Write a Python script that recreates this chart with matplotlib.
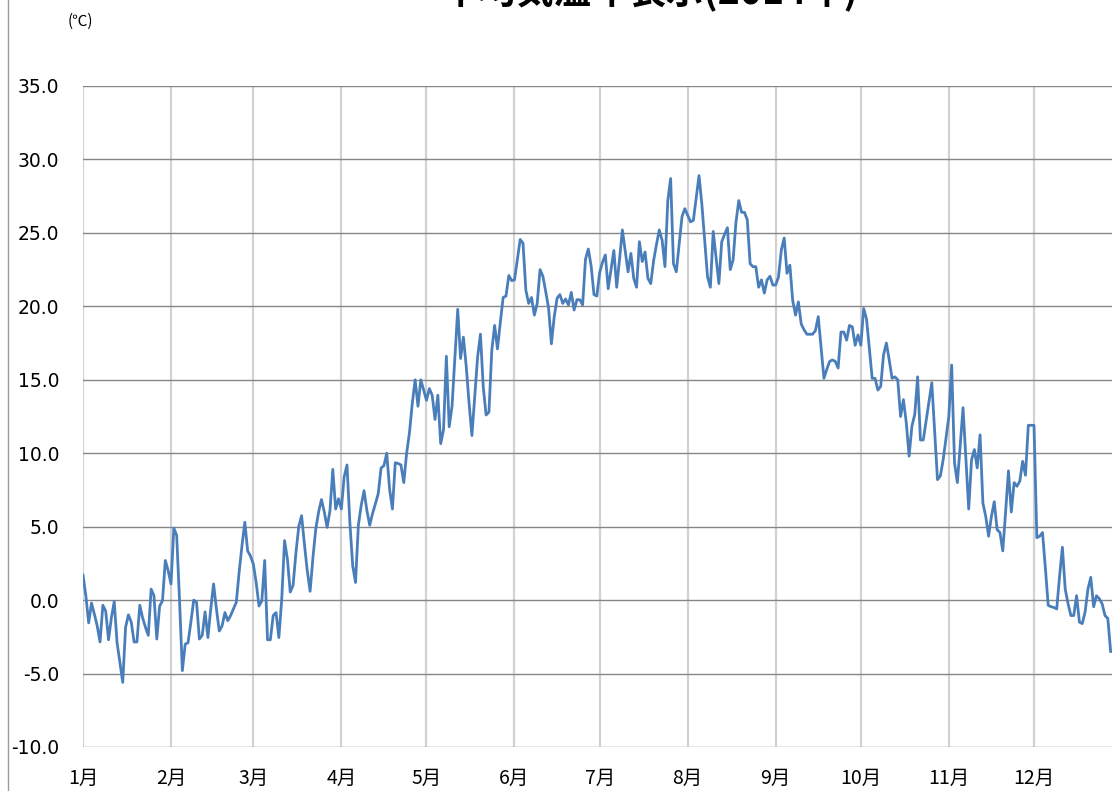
import matplotlib
matplotlib.use("Agg")
import matplotlib.pyplot as plt
import numpy as np
from matplotlib.lines import Line2D

# ---------------- data (daily mean temperature, ℃) ----------------
month_labels = ["1月", "2月", "3月", "4月", "5月", "6月",
                "7月", "8月", "9月", "10月", "11月", "12月"]
month_days = [31, 29, 31, 30, 31, 30, 31, 31, 30, 31, 30, 31]

jan = [1.7, 0.3, -1.55, -0.2, -0.95, -1.75, -2.85, -0.35, -0.75, -2.7,
       -1.2, -0.1, -2.9, -4.25, -5.6, -1.85, -1.0, -1.5, -2.85, -2.85,
       -0.35, -1.2, -1.85, -2.4, 0.75, 0.3, -2.65, -0.4, -0.05, 2.7, 2.0]
feb = [1.1, 4.9, 4.4, 0.0, -4.8, -3.0, -2.9, -1.5, 0.0, -0.15,
       -2.65, -2.4, -0.8, -2.55, -0.6, 1.1, -0.6, -2.1, -1.75, -0.85,
       -1.4, -1.05, -0.6, -0.15, 1.9, 3.7, 5.3, 3.35, 3.0]
mar = [2.45, 1.2, -0.4, -0.05, 2.7, -2.7, -2.7, -1.05, -0.85, -2.55,
       0.05, 4.05, 2.8, 0.55, 1.0, 3.2, 5.0, 5.75, 3.8, 2.0,
       0.6, 2.9, 4.85, 6.0, 6.85, 6.0, 4.95, 6.1, 8.9, 6.2, 6.9]
apr = [6.2, 8.4, 9.2, 5.3, 2.35, 1.2, 5.1, 6.45, 7.45, 6.1,
       5.1, 5.9, 6.55, 7.25, 9.0, 9.15, 10.0, 7.55, 6.2, 9.35,
       9.3, 9.2, 8.0, 10.0, 11.4, 13.4, 15.0, 13.2, 15.0, 14.3]
may = [13.6, 14.4, 13.95, 12.3, 13.95, 10.65, 11.6, 16.6, 11.8, 13.2,
       16.55, 19.8, 16.45, 17.9, 15.9, 13.4, 11.2, 13.85, 16.55, 18.1,
       14.5, 12.6, 12.8, 17.0, 18.7, 17.1, 18.9, 20.6, 20.7, 22.1, 21.75]
jun = [21.8, 23.2, 24.55, 24.3, 21.1, 20.2, 20.6, 19.4, 20.2, 22.5,
       22.05, 21.0, 19.9, 17.45, 19.3, 20.55, 20.8, 20.2, 20.5, 20.1,
       20.95, 19.75, 20.45, 20.45, 20.1, 23.2, 23.9, 22.75, 20.8, 20.7]
jul = [22.3, 23.0, 23.5, 21.2, 22.5, 23.8, 21.3, 23.2, 25.2, 23.8,
       22.35, 23.6, 21.9, 21.3, 24.4, 23.05, 23.7, 21.9, 21.55, 23.1,
       24.2, 25.2, 24.5, 22.7, 27.2, 28.7, 22.9, 22.35, 24.2, 26.1, 26.65]
aug = [26.2, 25.75, 25.85, 27.4, 28.9, 26.95, 24.5, 22.0, 21.3, 25.1,
       23.3, 21.55, 24.4, 24.9, 25.35, 22.5, 23.15, 25.7, 27.2, 26.4,
       26.4, 25.9, 22.9, 22.7, 22.7, 21.3, 21.8, 20.9, 21.8, 22.05, 21.45]
sep = [21.45, 22.0, 23.85, 24.65, 22.25, 22.8, 20.4, 19.4, 20.3, 18.8,
       18.4, 18.1, 18.1, 18.1, 18.35, 19.3, 17.2, 15.1, 15.7, 16.25,
       16.35, 16.25, 15.8, 18.25, 18.25, 17.7, 18.7, 18.6, 17.35, 18.05]
oct_ = [17.35, 19.85, 19.15, 17.1, 15.1, 15.1, 14.3, 14.55, 16.7, 17.5,
        16.35, 15.1, 15.2, 15.0, 12.5, 13.65, 12.1, 9.8, 11.85, 12.65,
        15.2, 10.9, 10.9, 12.2, 13.5, 14.8, 11.5, 8.2, 8.45, 9.55, 11.0]
nov = [12.5, 16.0, 9.35, 8.0, 10.5, 13.1, 9.6, 6.2, 9.55, 10.25,
       9.0, 11.25, 6.6, 5.7, 4.35, 5.7, 6.7, 4.8, 4.6, 3.35,
       6.0, 8.8, 6.0, 8.0, 7.75, 8.1, 9.45, 8.5, 11.9, 11.9]
dec = [11.9, 4.25, 4.35, 4.6, 2.2, -0.35, -0.45, -0.5, -0.6, 1.6,
       3.6, 0.75, -0.25, -1.05, -1.05, 0.3, -1.5, -1.6, -0.8, 0.75,
       1.55, -0.45, 0.3, 0.1, -0.25, -1.05, -1.25, -3.5]

y_ticks = [-10, -5, 0, 5, 10, 15, 20, 25, 30, 35]
title = "平均気温年表示(2014年)"
unit_label = "(℃)"

# ---------------- figure ----------------
plt.rcParams['font.family'] = ['Noto Sans CJK JP', 'DejaVu Sans']

W, H = 1112, 791
fig = plt.figure(figsize=(W / 100, H / 100), dpi=100)
fig.patch.set_facecolor("white")

n_days = sum(month_days)
px_per_day = (1034 - 83) / 335.0
ax_left, ax_bottom, ax_top = 83, 747, 86
ax_width = (n_days - 1) * px_per_day
ax = fig.add_axes([ax_left / W, (H - ax_bottom) / H,
                   ax_width / W, (ax_bottom - ax_top) / H])

temps = np.concatenate([jan, feb, mar, apr, may, jun, jul, aug, sep,
                        oct_, nov, dec])
days = np.arange(len(temps))
month_starts = np.concatenate([[0], np.cumsum(month_days)[:-1]])

for m in month_starts:
    ax.axvline(m, color="#d2d2d2", lw=1.6, zorder=0)
for v in y_ticks:
    ax.axhline(v, color="#868686", lw=1.0, zorder=0.5)

ax.plot(days, temps, color="#4a7ebb", lw=2.0, solid_joinstyle="round",
        zorder=3)

ax.set_xlim(0, n_days - 1)
ax.set_ylim(-10, 35)
ax.set_yticks(y_ticks)
ax.set_yticklabels([f"{v:.1f}" for v in y_ticks],
                   fontfamily="DejaVu Sans", fontsize=13.5)
ax.set_xticks(month_starts)
ax.set_xticklabels(month_labels, fontsize=14)
ax.tick_params(axis="y", length=0, pad=17)
ax.tick_params(axis="x", length=0, pad=15)
for s in ax.spines.values():
    s.set_visible(False)
ax.set_facecolor("white")

fig.text(80 / W, 1 - 21 / H, unit_label, ha="center", va="center",
         fontsize=11)
fig.text(650 / W, 1 - 4 / H, title, ha="center", va="baseline",
         fontsize=27, fontweight="bold")
fig.add_artist(Line2D([7.5 / W, 7.5 / W], [0, 1], transform=fig.transFigure,
                      color="#9a9a9a", lw=1.0))

fig.savefig("out.png", dpi=100)
